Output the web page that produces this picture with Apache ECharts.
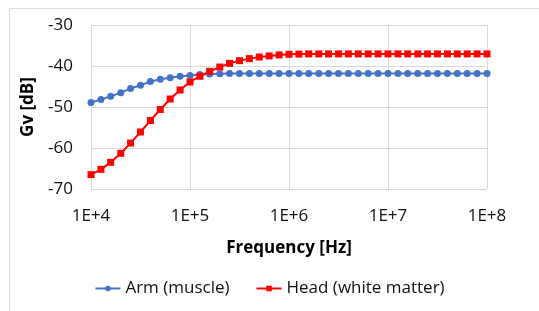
<!DOCTYPE html>
<html>
<head>
<meta charset="utf-8">
<script src="https://cdn.jsdelivr.net/npm/echarts@6/dist/echarts.min.js"></script>
<style>html,body{margin:0;padding:0;background:#fff;}#c{width:539px;height:311px;}</style>
</head>
<body>
<div id="c"></div>
<script>
var frequencies = [
  1.00e4, 1.26e4, 1.58e4, 2.00e4, 2.51e4, 3.16e4, 3.98e4, 5.01e4, 6.31e4, 7.94e4,
  1.00e5, 1.26e5, 1.58e5, 2.00e5, 2.51e5, 3.16e5, 3.98e5, 5.01e5, 6.31e5, 7.94e5,
  1.00e6, 1.26e6, 1.58e6, 2.00e6, 2.51e6, 3.16e6, 3.98e6, 5.01e6, 6.31e6, 7.94e6,
  1.00e7, 1.26e7, 1.58e7, 2.00e7, 2.51e7, 3.16e7, 3.98e7, 5.01e7, 6.31e7, 7.94e7,
  1.00e8
];
var armMuscle = [
  -48.9, -48.2, -47.4, -46.5, -45.5, -44.7, -43.8, -43.25, -42.85, -42.5,
  -42.3, -42.05, -41.95, -41.87, -41.8, -41.8, -41.8, -41.8, -41.8, -41.8,
  -41.8, -41.8, -41.8, -41.8, -41.8, -41.8, -41.8, -41.8, -41.8, -41.8,
  -41.8, -41.8, -41.8, -41.8, -41.8, -41.8, -41.8, -41.8, -41.8, -41.8,
  -41.8
];
var headWhiteMatter = [
  -66.5, -65.2, -63.5, -61.3, -58.8, -56.1, -53.3, -50.6, -48.05, -45.85,
  -43.9, -42.5, -41.3, -40.25, -39.35, -38.7, -38.2, -37.8, -37.55, -37.3,
  -37.15, -37.1, -37.05, -37.05, -37.05, -37.05, -37.05, -37.05, -37.05, -37.05,
  -37.05, -37.05, -37.05, -37.05, -37.05, -37.05, -37.05, -37.05, -37.05, -37.05,
  -37.05
];
var seriesNames = ['Arm (muscle)', 'Head (white matter)'];
var xTitle = 'Frequency [Hz]';
var yTitle = 'Gv [dB]';

function pairs(xs, ys) { return xs.map(function (x, i) { return [x, ys[i]]; }); }

var FONT = 'Open Sans';
var FS = 17;
var chart = echarts.init(document.getElementById('c'), null, { renderer: 'canvas' });
chart.setOption({
  animation: false,
  backgroundColor: '#fff',
  textStyle: { fontFamily: FONT },
  graphic: [{
    type: 'rect', left: 7, top: 6, z: -10,
    shape: { x: 0, y: 0, width: 640, height: 400 },
    style: { fill: 'none', stroke: '#d9d9d9', lineWidth: 1 }
  }],
  grid: { left: 91, right: 52, top: 25, bottom: 122, containLabel: false },
  xAxis: {
    type: 'log', logBase: 10, min: 1e4, max: 1e8,
    name: xTitle, nameLocation: 'middle', nameGap: 51,
    nameTextStyle: { fontFamily: FONT, fontWeight: 'bold', fontSize: FS, color: '#000' },
    axisLine: { show: false },
    axisTick: { show: false },
    minorTick: { show: false },
    splitLine: { show: true, lineStyle: { color: '#d9d9d9', width: 1 } },
    axisLabel: {
      fontFamily: FONT, fontSize: FS, color: '#111', margin: 19,
      formatter: function (v) { return '1E+' + Math.round(Math.log10(v)); }
    }
  },
  yAxis: {
    type: 'value', min: -70, max: -30, interval: 10,
    name: yTitle, nameLocation: 'middle', nameGap: 54, nameRotate: 90,
    nameTextStyle: { fontFamily: FONT, fontWeight: 'bold', fontSize: FS, color: '#000' },
    axisLine: { show: false },
    axisTick: { show: false },
    splitLine: { show: true, lineStyle: { color: '#d9d9d9', width: 1 } },
    axisLabel: { fontFamily: FONT, fontSize: FS, color: '#111', margin: 18 }
  },
  legend: {
    bottom: 9, left: 'center', itemWidth: 25, itemHeight: 7, itemGap: 26,
    textStyle: { fontFamily: FONT, fontSize: FS, color: '#111' },
    data: seriesNames
  },
  series: [
    {
      name: seriesNames[0], type: 'line', data: pairs(frequencies, armMuscle),
      symbol: 'circle', symbolSize: 7,
      lineStyle: { color: '#4472c4', width: 2 },
      itemStyle: { color: '#4472c4' }
    },
    {
      name: seriesNames[1], type: 'line', data: pairs(frequencies, headWhiteMatter),
      symbol: 'rect', symbolSize: 7,
      lineStyle: { color: '#ff0000', width: 2 },
      itemStyle: { color: '#ff0000' }
    }
  ]
});
</script>
</body>
</html>
